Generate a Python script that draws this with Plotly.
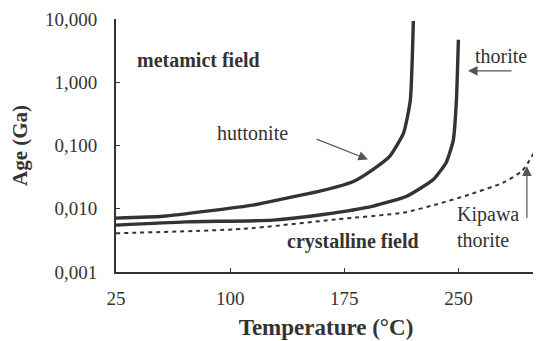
import plotly.graph_objects as go

# Data
huttonite_T = [25, 56, 115, 128, 161, 181, 194, 205, 214, 218.4, 220.4]
huttonite_age = [0.0071, 0.0076, 0.0114, 0.0132, 0.0195, 0.027, 0.042, 0.068, 0.158, 0.52, 9.3]

thorite_T = [25, 71, 128, 161, 194, 216, 233.5, 242, 246.7, 248.7, 250]
thorite_age = [0.0055, 0.0062, 0.0066, 0.0081, 0.011, 0.0158, 0.029, 0.054, 0.123, 0.52, 4.7]

kipawa_T = [25, 108.5, 170, 214, 235.5, 258, 279.6, 292, 301]
kipawa_age = [0.0041, 0.0048, 0.0068, 0.0087, 0.0117, 0.017, 0.026, 0.04, 0.087]

x_ticks = [25, 100, 175, 250]
y_ticks = [0.001, 0.01, 0.1, 1, 10]
y_ticktext = ["0,001", "0,010", "0,100", "1,000", "10,000"]

FONT = "Liberation Serif, Times New Roman, serif"
INK = "#333333"

fig = go.Figure()
fig.add_trace(go.Scatter(x=huttonite_T, y=huttonite_age, mode="lines",
                         line=dict(color=INK, width=3.4, shape="spline", smoothing=0.5),
                         showlegend=False, hoverinfo="skip"))
fig.add_trace(go.Scatter(x=thorite_T, y=thorite_age, mode="lines",
                         line=dict(color=INK, width=3.4, shape="spline", smoothing=0.5),
                         showlegend=False, hoverinfo="skip"))
fig.add_trace(go.Scatter(x=kipawa_T, y=kipawa_age, mode="lines",
                         line=dict(color=INK, width=2, dash="4px,4px", shape="spline", smoothing=0.6),
                         showlegend=False, hoverinfo="skip"))

ann = [
    dict(x=79.5, y=0.354, text="<b>metamict field</b>", xanchor="center"),
    dict(x=115, y=-0.795, text="huttonite", xanchor="center"),
    dict(x=278, y=0.417, text="thorite", xanchor="center"),
    dict(x=247.8, y=-2.29, text="Kipawa<br>thorite", xanchor="left"),
    dict(x=180.7, y=-2.51, text="<b>crystalline field</b>", xanchor="center"),
]
annotations = []
for a in ann:
    annotations.append(dict(x=a["x"], y=a["y"], xref="x", yref="y", text=a["text"],
                            xanchor=a["xanchor"], yanchor="middle",
                            showarrow=False, font=dict(family=FONT, size=20, color=INK),
                            align="left"))
arrows = [
    ((190.6, -1.22), (155.8, -0.89)),
    ((256.3, 0.18), (285.9, 0.18)),
    ((295, -1.33), (295, -2.17)),
]
for (hx, hy), (tx, ty) in arrows:
    annotations.append(dict(x=hx, y=hy, ax=tx, ay=ty, xref="x", yref="y", axref="x", ayref="y",
                            text="", showarrow=True, arrowhead=2, arrowsize=1.6, arrowwidth=1.2,
                            arrowcolor="#555555"))

# the page body has a default margin, so the figure is sized to fit the window
fig.update_layout(
    width=536, height=333,
    margin=dict(l=108, r=8, t=11, b=69),
    paper_bgcolor="white", plot_bgcolor="white",
    font=dict(family=FONT, color=INK),
    annotations=annotations,
    xaxis=dict(range=[25, 301], tickvals=x_ticks, ticks="inside", ticklen=4, tickcolor=INK,
               showline=True, linecolor=INK, linewidth=2, showgrid=False, zeroline=False,
               automargin=False, ticklabelstandoff=8,
               tickfont=dict(family=FONT, size=19, color=INK),
               title=dict(text="<b>Temperature (°C)</b>", font=dict(family=FONT, size=23, color=INK), standoff=11)),
    yaxis=dict(type="log", range=[-3, 1], tickvals=y_ticks, ticktext=y_ticktext, ticks="inside",
               ticklen=4, tickcolor=INK, showline=True, linecolor=INK, linewidth=2, showgrid=False,
               zeroline=False, automargin=False, ticklabelstandoff=13,
               tickfont=dict(family=FONT, size=19, color=INK),
               title=dict(text="<b>Age (Ga)</b>", font=dict(family=FONT, size=21, color=INK), standoff=12)),
)

fig.write_html("out.html")
